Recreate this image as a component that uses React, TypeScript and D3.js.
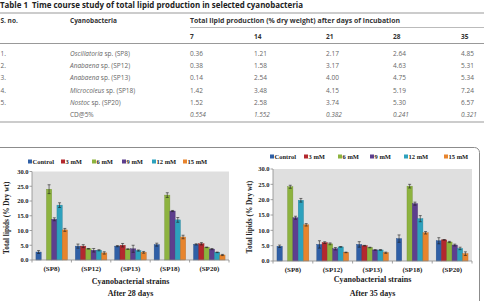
import React from "react";
import * as d3 from "d3";

// table 1 data
const days = ["7", "14", "21", "28", "35"];
const genera = ["Oscillatoria", "Anabaena", "Anabaena", "Microcoleus", "Nostoc"];
const strainCodes = ["SP8", "SP12", "SP13", "SP18", "SP20"];
const lipidTable = [
  [0.36, 1.21, 2.17, 2.64, 4.85],
  [0.38, 1.58, 3.17, 4.63, 5.31],
  [0.14, 2.54, 4.0, 4.75, 5.34],
  [1.42, 3.48, 4.15, 5.19, 7.24],
  [1.52, 2.58, 3.74, 5.3, 6.57],
];
const cdValues = [0.554, 1.552, 0.382, 0.241, 0.321];

// bar charts data
const treatments = ["Control", "3 mM", "6 mM", "9 mM", "12 mM", "15 mM"];
const strainLabels = ["(SP8)", "(SP12)", "(SP13)", "(SP18)", "(SP20)"];
const lipids28 = [
  [2.7, 0, 24.0, 13.8, 18.6, 10.2],
  [4.7, 4.7, 3.8, 3.3, 3.3, 2.4],
  [4.7, 5.0, 3.7, 3.8, 3.2, 2.6],
  [5.2, 0, 22.0, 16.6, 13.6, 7.8],
  [5.3, 5.5, 4.3, 3.7, 2.6, 1.7],
];
const err28 = [
  [0.5, 0, 1.5, 0.5, 0.8, 0.5],
  [0.7, 0.5, 0.1, 0.6, 0.2, 0.4],
  [0.2, 0.6, 0.1, 1.2, 0.2, 0.3],
  [0.5, 0, 0.8, 0.2, 0.8, 0.6],
  [0.2, 0.4, 0.1, 0.2, 0.1, 0.2],
];
const lipids35 = [
  [4.8, 0, 24.2, 14.1, 19.8, 11.8],
  [5.4, 6.0, 5.6, 4.0, 4.6, 2.8],
  [5.4, 5.0, 4.4, 3.6, 3.6, 2.7],
  [7.3, 0, 24.4, 18.7, 13.8, 9.2],
  [6.6, 6.9, 6.2, 5.2, 4.1, 2.4],
];
const err35 = [
  [0.4, 0, 0.5, 0.5, 0.6, 0.4],
  [1.2, 0.3, 0.3, 0.4, 0.1, 0.1],
  [0.9, 0.1, 0.1, 0.1, 0.1, 0.2],
  [1.2, 0, 0.6, 0.5, 1.0, 0.4],
  [1.0, 0.1, 0.2, 0.3, 0.4, 0.6],
];
const yTicks = [0, 5, 10, 15, 20, 25, 30];

const COLORS = ["#2F5FA6", "#B3282E", "#8DB33F", "#5D3F8E", "#2DA1BD", "#E8842D"];
const SERIF = "'Liberation Serif', 'Times New Roman', serif";
const SANS = "'Open Sans', 'Noto Sans', sans-serif";

const Table1: React.FC = () => {
  const colX = [190, 254, 326, 393, 461];
  const rowY = (i: number) => 56 + i * 12.2;
  return (
    <g fontFamily={SANS}>
      <text x={0} y={7.5} fontSize={8} fontWeight="bold" fill="#222" textLength={303} lengthAdjust="spacingAndGlyphs">
        <tspan>Table 1</tspan>
        <tspan dx={4}>Time course study of total lipid production in selected cyanobacteria</tspan>
      </text>
      <line x1={0} x2={484} y1={13} y2={13} stroke="#999" strokeWidth={1.2} />
      <text x={0.5} y={22.5} fontSize={6.5} fontWeight="bold" fill="#333">S. no.</text>
      <text x={70} y={22.5} fontSize={6.5} fontWeight="bold" fill="#333">Cyanobacteria</text>
      <text x={190} y={22.5} fontSize={6.5} fontWeight="bold" fill="#333" textLength={210} lengthAdjust="spacingAndGlyphs">
        Total lipid production (% dry weight) after days of incubation
      </text>
      <line x1={190} x2={484} y1={27.5} y2={27.5} stroke="#aaa" strokeWidth={0.8} />
      {days.map((d, j) => (
        <text key={d} x={colX[j]} y={38.5} fontSize={6.5} fontWeight="bold" fill="#333">{d}</text>
      ))}
      <line x1={0} x2={484} y1={43.5} y2={43.5} stroke="#999" strokeWidth={1} />
      {lipidTable.map((row, i) => (
        <g key={i} fontSize={6.5} fill="#666">
          <text x={0.5} y={rowY(i)}>{`${i + 1}.`}</text>
          <text x={70} y={rowY(i)}>
            <tspan fontStyle="italic">{genera[i]}</tspan> sp. ({strainCodes[i]})
          </text>
          {row.map((v, j) => (
            <text key={j} x={colX[j]} y={rowY(i)}>{v.toFixed(2)}</text>
          ))}
        </g>
      ))}
      <g fontSize={6.5} fill="#666">
        <text x={70} y={rowY(5)}>CD@5%</text>
        {cdValues.map((v, j) => (
          <text key={j} x={colX[j]} y={rowY(5)} fontStyle="italic">{v.toFixed(3)}</text>
        ))}
      </g>
      <line x1={0} x2={484} y1={122} y2={122} stroke="#999" strokeWidth={1.2} />
    </g>
  );
};

interface PanelProps {
  values: number[][];
  errors: number[][];
  left: number;
  right: number;
  top: number;
  bottom: number;
  legendX: number[];
  legendY: number;
  yTitleX: number;
  xTitleY: number;
  caption: string;
  captionY: number;
}

const BarPanel: React.FC<PanelProps> = (p) => {
  const y = d3.scaleLinear().domain([0, 30]).range([p.bottom, p.top]);
  const x0 = d3.scaleBand<string>().domain(strainLabels).range([p.left, p.right]).paddingInner(0.2).paddingOuter(0.1);
  const x1 = d3.scaleBand<string>().domain(treatments).range([0, x0.bandwidth()]);
  const step = x0.step();
  const midX = (p.left + p.right) / 2;
  return (
    <g>
      <rect x={p.left} y={p.top} width={p.right - p.left} height={p.bottom - p.top} fill="#DFDFDF" />
      {/* y axis */}
      <line x1={p.left} x2={p.left} y1={p.top} y2={p.bottom} stroke="#8a8a8a" strokeWidth={0.8} />
      {yTicks.map((t) => (
        <g key={t}>
          <line x1={p.left - 2.5} x2={p.left} y1={y(t)} y2={y(t)} stroke="#8a8a8a" strokeWidth={0.8} />
          <text x={p.left - 3.5} y={y(t) + 2.3} textAnchor="end" fontFamily={SERIF} fontWeight="bold" fontSize={6.5} fill="#222">
            {t.toFixed(1)}
          </text>
        </g>
      ))}
      <text
        transform={`translate(${p.yTitleX},${(p.top + p.bottom) / 2 + 2}) rotate(-90)`}
        textAnchor="middle"
        fontFamily={SERIF}
        fontWeight="bold"
        fontSize={7.3}
        fill="#222"
      >
        Total lipids (% Dry wt)
      </text>
      {/* bars */}
      {p.values.map((row, i) =>
        row.map((v, j) => {
          if (v <= 0) return null;
          const bx = (x0(strainLabels[i]) ?? 0) + (x1(treatments[j]) ?? 0);
          const bw = x1.bandwidth();
          const e = p.errors[i][j];
          const cx = bx + bw / 2;
          return (
            <g key={`${i}-${j}`}>
              <rect x={bx} y={y(v)} width={bw} height={p.bottom - y(v)} fill={COLORS[j]}
                stroke={d3.color(COLORS[j])!.darker(0.6).toString()} strokeWidth={0.4} />
              {e > 0 && (
                <g stroke="#222" strokeWidth={0.6}>
                  <line x1={cx} x2={cx} y1={y(v + e)} y2={y(v - e)} />
                  <line x1={cx - 1.5} x2={cx + 1.5} y1={y(v + e)} y2={y(v + e)} />
                  <line x1={cx - 1.5} x2={cx + 1.5} y1={y(v - e)} y2={y(v - e)} />
                </g>
              )}
            </g>
          );
        })
      )}
      {/* x axis */}
      <line x1={p.left} x2={p.right} y1={p.bottom} y2={p.bottom} stroke="#8a8a8a" strokeWidth={0.8} />
      {d3.range(strainLabels.length + 1).map((k) => {
        const tx = k === 0 ? p.left : k === strainLabels.length ? p.right : (x0(strainLabels[k]) ?? 0) - (step - x0.bandwidth()) / 2;
        return <line key={k} x1={tx} x2={tx} y1={p.bottom} y2={p.bottom + 2.5} stroke="#8a8a8a" strokeWidth={0.8} />;
      })}
      {strainLabels.map((s) => (
        <text key={s} x={(x0(s) ?? 0) + x0.bandwidth() / 2} y={p.bottom + 10.5} textAnchor="middle"
          fontFamily={SERIF} fontWeight="bold" fontSize={7} fill="#222">
          {s}
        </text>
      ))}
      <text x={midX} y={p.xTitleY} textAnchor="middle" fontFamily={SERIF} fontWeight="bold" fontSize={8} fill="#222">
        Cyanobacterial strains
      </text>
      <text x={midX} y={p.captionY} textAnchor="middle" fontFamily={SERIF} fontWeight="bold" fontSize={8} fill="#222">
        {p.caption}
      </text>
      {/* legend */}
      {treatments.map((t, j) => (
        <g key={t}>
          <rect x={p.legendX[j]} y={p.legendY - 2.5} width={4} height={4} fill={COLORS[j]} />
          <text x={p.legendX[j] + 4.5} y={p.legendY + 1.8} fontFamily={SERIF} fontWeight="bold" fontSize={6.5} fill="#222">
            {t}
          </text>
        </g>
      ))}
    </g>
  );
};

export default function App() {
  return (
    <svg width={484} height={301} style={{ position: "fixed", left: 0, top: 0, background: "#fff" }}>
      <rect width={484} height={301} fill="#fff" />
      <Table1 />
      <path d="M0,147.5 H474.5 A5,5 0 0 1 479.5,152.5 V301" fill="none" stroke="#8c8c8c" strokeWidth={1} />
      <BarPanel
        values={lipids28}
        errors={err28}
        left={32}
        right={229}
        top={171.5}
        bottom={260}
        legendX={[28, 61, 92, 122, 152, 183]}
        legendY={162}
        yTitleX={9}
        xTitleY={284}
        caption="After 28 days"
        captionY={296}
      />
      <BarPanel
        values={lipids35}
        errors={err35}
        left={273}
        right={472}
        top={169}
        bottom={261}
        legendX={[270, 304, 338, 370, 404, 444]}
        legendY={157}
        yTitleX={252}
        xTitleY={282}
        caption="After 35 days"
        captionY={296}
      />
    </svg>
  );
}
